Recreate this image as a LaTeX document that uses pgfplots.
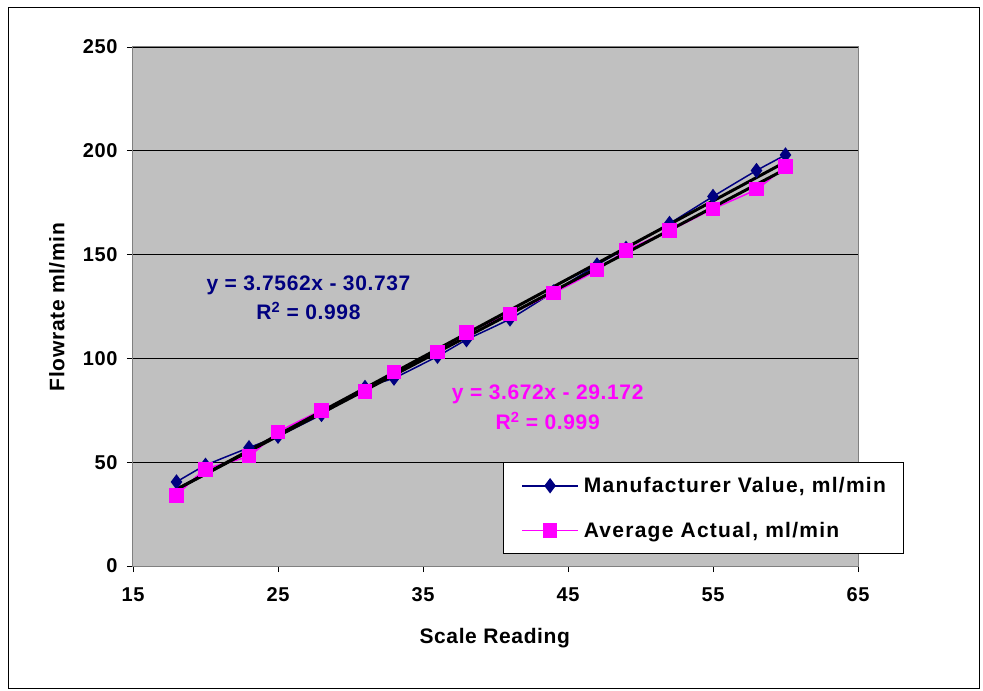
\documentclass[border=0pt]{standalone}
\usepackage{pgfplots}
\pgfplotsset{compat=1.18}
\usepackage{fontspec}
\setmainfont{Liberation Sans}
\definecolor{navyb}{RGB}{0,0,128}
\definecolor{mag}{RGB}{255,0,255}
\definecolor{plotgray}{RGB}{192,192,192}
\newcommand{\lblfont}{\fontsize{21}{25}\selectfont\bfseries\addfontfeature{LetterSpace=3}}
\newcommand{\tickfont}{\fontsize{20}{24}\selectfont\bfseries\addfontfeature{LetterSpace=3}}
\newcommand{\legfont}{\fontsize{21}{25}\selectfont\bfseries\addfontfeature{LetterSpace=6}}
\pgfplotstableread{
x y
18 40.5
20 48.5
23 57
25 62.5
28 73
31 86
33 90.5
36 101
38 109
41 119
44 132
47 145
49 153
52 165
55 178
58 190.5
60 198
}\manuf
\pgfplotstableread{
x y
18 34
20 46.5
23 53
25 64.5
28 75
31 84
33 93.5
36 103
38 112.5
41 121.5
44 131.5
47 142.5
49 152
52 161.5
55 172
58 181.5
60 192.5
}\actual
\begin{document}
\begin{tikzpicture}[x=1pt,y=1pt]
\path[use as bounding box] (0,0) rectangle (983,691);
\draw[black, line width=1pt] (8.5,2) rectangle (979.5,683);
\begin{axis}[
  at={(133pt,125pt)}, anchor=south west,
  width=725pt, height=519pt, scale only axis,
  xmin=15, xmax=65, ymin=0, ymax=250,
  xtick={15,25,...,65}, ytick={0,50,...,250},
  tick align=outside, major tick length=6pt,
  xtick pos=bottom, ytick pos=left,
  ymajorgrids, grid style={black, line width=0.8pt},
  axis background/.style={fill=plotgray},
  axis line style={draw=gray, line width=1pt},
  tick style={black, line width=0.8pt},
  ticklabel style={font=\tickfont},
  xticklabel style={yshift=-12pt},
  yticklabel style={xshift=-6pt},
  /pgf/number format/assume math mode=true,
  xlabel={Scale Reading}, ylabel={Flowrate ml/min},
  label style={font=\lblfont},
  xlabel style={at={(axis description cs:0.499,-0.139)}, anchor=center},
  ylabel style={at={(axis description cs:-0.105,0.499)}, anchor=center, rotate=0},
  legend cell align=left,
  legend style={at={(axis description cs:0.5103,0.2004)}, anchor=north west,
    draw=black, fill=white, line width=0.8pt,
    font=\legfont,
    row sep=24pt, inner xsep=18pt, inner ysep=13pt,
    column sep=3pt},
  legend image code/.code={\draw[#1, mark repeat=2, mark phase=2] plot coordinates {(0pt,0pt) (28pt,0pt) (56pt,0pt)};},
]
\addplot[navyb, line width=1.5pt, smooth, tension=0.3, mark=diamond*, mark size=6.5pt, mark options={solid, fill=navyb}] table[x=x,y=y] {\manuf};
\addlegendentry{\makebox[300pt][l]{Manufacturer Value, ml/min}}
\addplot[mag, line width=1.5pt, smooth, tension=0.3, mark=square*, mark size=6.5pt, mark options={solid, fill=mag}] table[x=x,y=y] {\actual};
\addlegendentry{\makebox[300pt][l]{Average Actual, ml/min}}
\addplot[black, line width=3pt, forget plot] coordinates {(18,36.87) (60,194.63)};
\addplot[black, line width=3pt, forget plot] coordinates {(18,36.92) (60,191.15)};
\node[navyb, font=\lblfont] at (axis cs:27.1,135.4) {y = 3.7562x - 30.737};
\node[navyb, font=\lblfont] at (axis cs:27.1,122.8) {R\textsuperscript{2} = 0.998};
\node[mag, font=\lblfont] at (axis cs:43.6,82.9) {y = 3.672x - 29.172};
\node[mag, font=\lblfont] at (axis cs:43.6,69.8) {R\textsuperscript{2} = 0.999};
\end{axis}
\end{tikzpicture}
\end{document}
